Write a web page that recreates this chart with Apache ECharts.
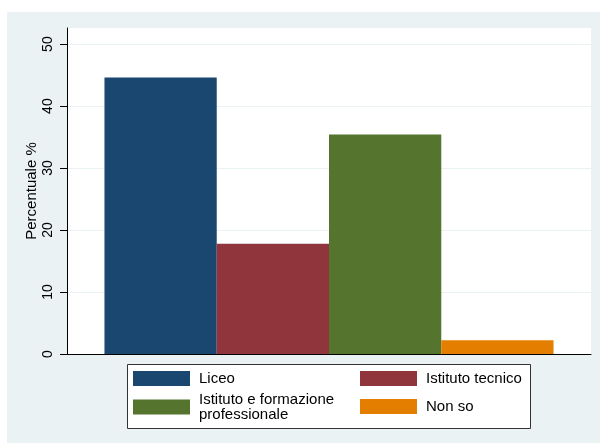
<!DOCTYPE html>
<html><head><meta charset="utf-8">
<script src="https://cdn.jsdelivr.net/npm/echarts@6/dist/echarts.min.js"></script>
<style>
html,body{margin:0;padding:0;background:#fff;}
#bg{position:absolute;left:7px;top:12px;width:593px;height:431px;background:#eaf2f3;}
#chart{position:absolute;left:0;top:0;width:603px;height:443px;}
</style></head>
<body><div id="bg"></div><div id="chart"></div>
<script>
const categories = ['Totale'];
const seriesNames = ['Liceo', 'Istituto tecnico', 'Istituto e formazione professionale', 'Non so'];
const seriesValues = [44.6, 17.8, 35.4, 2.2];
const seriesColors = ['#1a476f', '#90353b', '#55752f', '#e37e00'];
const yTicks = [0, 10, 20, 30, 40, 50];

const chart = echarts.init(document.getElementById('chart'), null, {renderer: 'canvas'});
const font = "Arial, 'Liberation Sans', sans-serif";
const legendFmt = n => n === 'Istituto e formazione professionale' ? 'Istituto e formazione\nprofessionale' : n;
const legendText = {fontFamily: font, fontSize: 15, color: '#000', lineHeight: 15, padding: [0, 0, 0, 4]};

chart.setOption({
  animation: false,
  backgroundColor: 'transparent',
  grid: {left: 67, top: 28, right: 12, bottom: 89, show: true, backgroundColor: '#fff', borderWidth: 0},
  xAxis: {
    type: 'category', data: categories,
    axisLine: {show: true, lineStyle: {color: '#000', width: 1}},
    axisTick: {show: false}, axisLabel: {show: false}, splitLine: {show: false}
  },
  yAxis: {
    type: 'value', min: 0, max: 52.6, interval: 10,
    name: 'Percentuale %', nameLocation: 'middle', nameGap: 28, nameMoveOverlap: false,
    nameTextStyle: {fontFamily: font, fontSize: 15, color: '#000'},
    axisLine: {show: true, lineStyle: {color: '#000', width: 1}},
    axisTick: {show: true, length: 7, lineStyle: {color: '#000'}, customValues: yTicks},
    axisLabel: {rotate: 90, margin: 12, fontFamily: font, fontSize: 14, color: '#000', customValues: yTicks},
    splitLine: {show: true, lineStyle: {color: '#eaf2f3', width: 1}}
  },
  legend: [
    {data: [seriesNames[0], seriesNames[2]], orient: 'vertical', left: 133, top: 371, padding: 0,
     itemWidth: 57, itemHeight: 15, itemGap: 6, icon: 'rect', formatter: legendFmt, textStyle: legendText, selectedMode: false},
    {data: [seriesNames[1], seriesNames[3]], orient: 'vertical', left: 360, top: 371, padding: 0,
     itemWidth: 57, itemHeight: 15, itemGap: 13, icon: 'rect', formatter: legendFmt, textStyle: legendText, selectedMode: false}
  ],
  graphic: [
    {type: 'rect', z: 1, shape: {x: 127.5, y: 364.5, width: 403, height: 64},
     style: {fill: '#fff', stroke: '#333', lineWidth: 1}}
  ],
  series: seriesNames.map((n, i) => ({
    name: n, type: 'bar', data: [seriesValues[i]],
    barGap: '0%', barCategoryGap: '14.3%',
    itemStyle: {color: seriesColors[i]}
  }))
});
</script></body></html>
